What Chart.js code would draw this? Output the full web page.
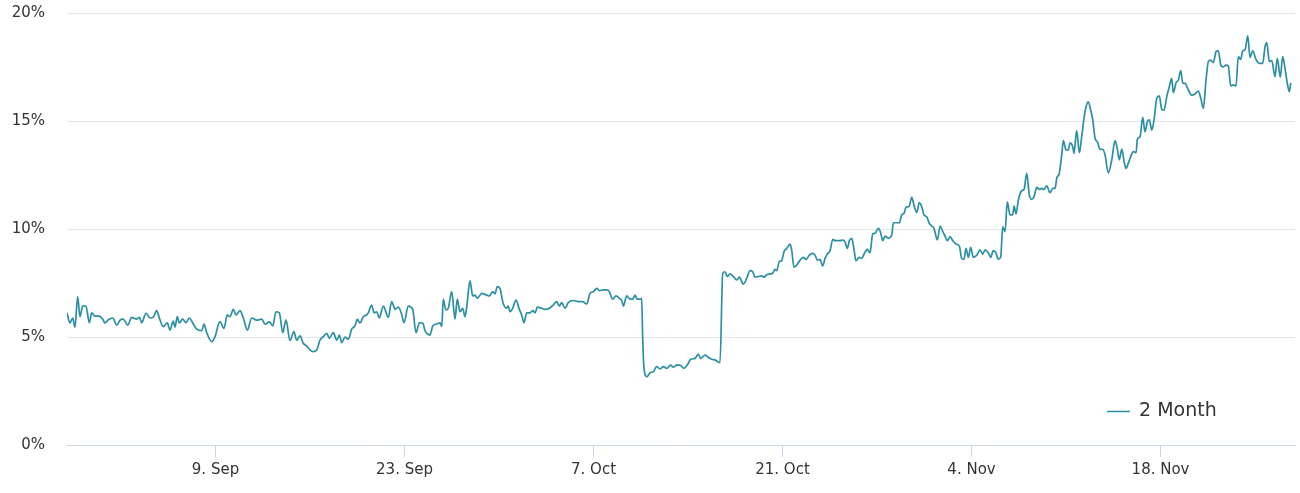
<!DOCTYPE html>
<html><head><meta charset="utf-8">
<script src="https://cdn.jsdelivr.net/npm/chart.js@4.4.1/dist/chart.umd.min.js"></script>
<style>html,body{margin:0;padding:0;background:#fff;} #wrap{width:1300px;height:493px;position:relative;}</style>
</head><body><div id="wrap"><canvas id="c"></canvas></div>
<script>
const seriesName = '2 Month';
// x = days since 29 Aug
const days = [
0.00,0.22,0.42,0.59,0.79,0.96,1.16,1.41,1.65,1.83,
2.07,2.39,2.64,2.81,3.06,3.39,3.68,3.93,4.17,4.50,
4.79,5.16,5.36,5.53,5.85,6.15,6.39,6.64,6.84,7.13,
7.43,7.63,7.87,8.00,8.17,8.32,8.57,8.81,9.06,9.31,
9.61,9.98,10.15,10.35,10.72,10.96,11.33,11.63,11.87,12.07,
12.32,12.52,12.81,13.06,13.36,13.68,14.05,14.42,14.67,14.99,
15.24,15.48,15.73,15.98,16.22,16.52,16.81,17.01,17.26,17.50,
17.76,18.00,18.24,18.50,18.74,19.04,19.24,19.43,19.73,19.98,
20.17,20.35,20.59,20.84,21.09,21.33,21.50,21.70,21.95,22.20,
22.32,22.57,22.74,22.94,23.13,23.43,23.80,24.05,24.30,24.54,
24.79,24.96,25.28,25.61,25.85,26.10,26.35,26.52,26.89,27.09,
27.39,27.63,27.76,27.87,28.07,28.24,28.50,28.74,28.91,29.11,
29.31,29.48,29.61,29.85,30.05,30.22,30.39,30.72,31.09,31.28,
31.53,31.70,31.87,32.07,32.27,32.52,32.69,32.81,33.01,33.26,
33.50,33.68,33.85,34.05,34.30,34.50,34.67,34.84,35.16,35.41,
35.73,36.02,36.27,36.47,36.64,36.89,37.13,37.50,37.87,38.20,
38.50,38.74,38.99,39.24,39.43,39.73,39.98,40.17,40.42,40.67,
40.91,41.09,41.21,41.46,41.70,41.90,42.07,42.24,42.50,42.57,
42.64,42.74,42.96,43.19,43.43,43.68,43.93,44.17,44.42,44.72,
44.91,45.16,45.41,45.70,45.95,46.20,46.52,46.76,46.94,47.26,
47.50,47.76,48.00,48.17,48.37,48.57,48.74,48.91,49.11,49.36,
49.61,49.80,50.10,50.35,50.59,50.79,50.96,51.21,51.46,51.63,
51.83,52.07,52.27,52.44,52.57,52.76,52.94,53.11,53.31,53.56,
53.68,53.85,54.05,54.30,54.54,54.74,54.99,55.24,55.41,55.58,
55.78,55.98,56.15,56.32,56.52,56.72,56.89,57.06,57.26,57.46,
57.63,57.80,57.95,58.13,58.30,58.44,58.69,58.87,59.04,59.28,
59.48,59.68,59.85,60.10,60.27,60.42,60.59,60.84,61.09,61.21,
61.46,61.65,61.83,62.00,62.15,62.39,62.57,62.74,62.94,63.13,
63.31,63.48,63.68,63.87,64.05,64.22,64.47,64.67,64.87,65.04,
65.21,65.41,65.61,65.85,66.10,66.27,66.44,66.59,66.76,66.94,
67.13,67.39,67.63,67.83,68.00,68.24,68.42,68.61,68.81,68.98,
69.16,69.31,69.48,69.65,69.85,70.05,70.15,70.30,70.47,70.72,
70.89,71.09,71.28,71.46,71.63,71.83,72.02,72.20,72.37,72.57,
72.81,73.01,73.19,73.31,73.50,73.68,73.80,74.00,74.17,74.30,
74.50,74.59,74.79,74.99,75.16,75.33,75.48,75.65,75.83,75.98,
76.15,76.32,76.52,76.72,76.89,77.13,77.39,77.63,77.80,77.95,
78.13,78.30,78.44,78.61,78.79,78.99,79.19,79.28,79.48,79.68,
79.85,80.02,80.17,80.35,80.52,80.72,80.91,81.09,81.26,81.46,
81.65,81.83,81.95,82.15,82.32,82.50,82.64,82.81,83.06,83.31,
83.56,83.80,83.98,84.17,84.37,84.54,84.72,84.91,85.11,85.28,
85.46,85.65,85.85,86.02,86.20,86.39,86.59,86.76,86.94,87.09,
87.26,87.46,87.63,87.83,88.07,88.32,88.57,88.74,88.87,89.06,
89.24,89.48,89.65,89.87,90.05,90.22,90.39,90.54,90.64
];
const rates = [
6.12,5.65,5.88,5.46,6.87,5.94,6.43,6.43,5.66,6.12,
5.97,5.97,5.83,5.65,5.80,5.88,5.55,5.78,5.83,5.55,
5.91,5.83,5.91,5.66,6.10,5.88,5.91,6.22,5.88,5.48,
5.65,5.32,5.74,5.46,5.94,5.65,5.83,5.66,5.88,5.65,
5.36,5.29,5.60,5.20,4.78,5.01,5.71,5.40,6.02,5.94,
6.28,6.02,6.22,5.88,5.32,5.88,5.78,5.83,5.60,5.70,
5.51,6.17,6.12,5.20,5.79,4.83,5.25,4.85,5.05,4.71,
4.58,4.40,4.32,4.40,4.85,5.05,5.17,4.94,5.20,4.85,
5.09,4.74,5.00,4.90,5.36,5.51,5.82,5.65,5.94,6.02,
6.12,6.48,6.12,6.17,5.88,6.43,5.91,6.64,6.28,6.38,
6.05,5.66,6.43,6.28,5.20,5.66,5.65,5.29,5.09,5.51,
5.60,5.65,5.48,6.75,6.25,6.33,7.10,5.83,6.75,6.17,
6.33,5.94,6.40,7.60,6.90,6.94,6.79,7.02,6.94,6.90,
7.10,7.00,7.33,7.25,6.64,6.33,6.43,6.17,6.33,6.71,
6.28,6.02,5.66,6.12,6.12,6.22,6.12,6.38,6.33,6.28,
6.33,6.48,6.64,6.43,6.59,6.33,6.59,6.69,6.64,6.64,
6.53,7.02,7.10,7.25,7.15,7.18,7.18,7.10,6.75,6.90,
6.79,6.69,6.43,6.90,6.75,6.75,6.94,6.75,6.75,6.79,
5.01,3.55,3.16,3.35,3.39,3.63,3.52,3.63,3.55,3.70,
3.60,3.70,3.70,3.55,3.70,3.97,4.01,4.21,4.01,4.16,
4.06,3.97,3.94,3.87,3.81,7.95,8.02,7.80,7.92,7.80,
7.64,7.77,7.45,7.72,8.07,8.02,7.77,7.80,7.83,7.77,
7.88,7.92,7.95,8.13,8.07,8.49,8.53,8.95,9.10,9.30,
9.02,8.23,8.33,8.56,8.69,8.59,8.79,8.87,8.79,8.56,
8.59,8.29,8.64,8.84,8.99,9.52,9.46,9.46,9.46,9.49,
9.40,9.10,9.46,9.57,9.03,8.53,8.69,8.64,8.84,9.06,
8.90,9.77,9.80,10.03,9.83,9.46,9.67,9.57,9.72,10.29,
10.29,10.29,10.65,10.73,11.00,11.06,11.47,11.10,10.76,11.22,
11.03,10.65,10.57,10.26,10.14,10.03,9.49,10.14,9.88,9.67,
9.46,9.65,9.46,9.31,9.21,8.64,8.59,9.10,8.69,9.15,
8.69,8.79,9.03,8.84,9.03,8.90,8.69,9.00,8.90,8.60,
8.69,10.10,9.88,11.26,10.65,10.65,11.06,10.70,11.34,11.77,
11.83,12.58,11.57,11.37,11.50,11.93,11.83,11.88,11.83,12.00,
11.68,11.88,11.88,12.35,12.58,13.43,14.09,13.66,13.66,13.99,
13.80,13.50,14.55,13.53,14.27,15.12,15.66,15.89,15.50,15.05,
14.20,14.04,13.69,13.69,13.43,12.60,13.20,14.09,13.70,13.20,
13.70,13.12,12.81,13.04,13.35,13.58,13.53,14.15,14.27,15.17,
14.50,14.97,15.05,14.58,15.05,16.05,16.16,15.54,15.50,16.13,
16.59,16.97,16.31,16.77,16.90,17.33,16.77,16.74,16.44,16.20,
16.25,16.39,16.05,15.59,16.90,17.75,17.82,17.70,18.21,18.25,
17.59,17.51,17.59,17.55,16.62,16.67,16.62,17.98,17.85,18.25,
18.30,18.94,17.94,18.25,17.85,17.67,17.67,18.44,18.63,17.75,
17.80,17.05,17.90,17.03,17.98,17.44,16.74,16.36,16.77
];
const tickDays = [11, 25, 39, 53, 67, 81];
const tickLabels = ['9. Sep', '23. Sep', '7. Oct', '21. Oct', '4. Nov', '18. Nov'];
const yTicks = [0, 5, 10, 15, 20];

const lineColor = '#2b8fa3';
const points = days.map((d, i) => ({ x: d, y: rates[i] }));

const legendPlugin = {
  id: 'floatLegend',
  afterDraw(chart) {
    const ctx = chart.ctx;
    const ds = chart.data.datasets[0];
    const a = chart.chartArea;
    const y = a.bottom - 34;
    const x0 = a.right - 188;
    ctx.save();
    ctx.strokeStyle = ds.borderColor;
    ctx.lineWidth = 1.5;
    ctx.beginPath();
    ctx.moveTo(x0, y + 0.5);
    ctx.lineTo(x0 + 23, y + 0.5);
    ctx.stroke();
    ctx.fillStyle = '#333333';
    ctx.font = '19px "DejaVu Sans"';
    ctx.textBaseline = 'middle';
    ctx.textAlign = 'left';
    ctx.fillText(ds.label, x0 + 32, y);
    ctx.restore();
  }
};

new Chart(document.getElementById('c'), {
  type: 'line',
  data: {
    datasets: [{
      label: seriesName,
      data: points,
      borderColor: lineColor,
      backgroundColor: lineColor,
      borderWidth: 1.7,
      pointRadius: 0,
      fill: false,
      cubicInterpolationMode: 'monotone'
    }]
  },
  options: {
    responsive: true,
    maintainAspectRatio: false,
    animation: false,
    devicePixelRatio: 1,
    layout: { padding: { left: 0, right: 5, top: 13, bottom: 0 } },
    plugins: { legend: { display: false }, tooltip: { enabled: false } },
    scales: {
      x: {
        type: 'linear',
        min: 0,
        max: 90.96,
        afterBuildTicks: s => { s.ticks = tickDays.map(v => ({ value: v })); },
        afterFit: s => { s.height = 48; s.paddingLeft = 0; s.paddingRight = 0; },
        ticks: {
          autoSkip: false, maxRotation: 0, padding: 4,
          color: '#333333',
          font: { family: 'DejaVu Sans', size: 15 },
          callback: v => tickLabels[tickDays.indexOf(v)]
        },
        grid: { drawOnChartArea: false, color: '#ccd6eb', tickLength: 12, lineWidth: 1 },
        border: { color: '#ccd6eb', width: 1 }
      },
      y: {
        min: 0,
        max: 20,
        afterBuildTicks: s => { s.ticks = yTicks.map(v => ({ value: v })); },
        afterFit: s => { s.width = 67; s.paddingTop = 0; s.paddingBottom = 0; },
        ticks: {
          padding: 22,
          color: '#333333',
          font: { family: 'DejaVu Sans', size: 15 },
          callback: v => v + '%'
        },
        grid: { color: '#e6e6e6', drawTicks: false, lineWidth: 1 },
        border: { display: false }
      }
    }
  },
  plugins: [legendPlugin]
});
</script>
</body></html>
